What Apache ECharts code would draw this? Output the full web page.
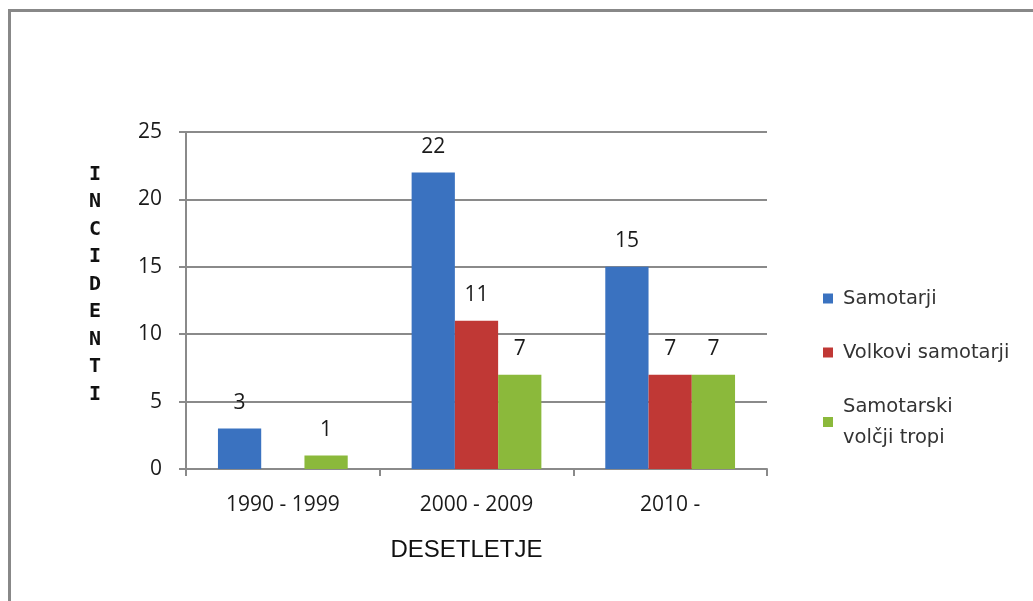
<!DOCTYPE html>
<html>
<head>
<meta charset="utf-8">
<script src="https://cdn.jsdelivr.net/npm/echarts@6/dist/echarts.min.js"></script>
<style>html,body{margin:0;padding:0;background:#fff}#c{width:1033px;height:601px}</style>
</head>
<body>
<div id="c"></div>
<script>
var categories = ['1990 - 1999', '2000 - 2009', '2010 -'];
var seriesNames = ['Samotarji', 'Volkovi samotarji', 'Samotarski\nvolčji tropi'];
var samotarji = [3, 22, 15];
var volkoviSamotarji = [null, 11, 7];
var volcjiTropi = [1, 7, 7];
var yTicks = [0, 5, 10, 15, 20, 25];

var colors = ['#3a72c0', '#c03835', '#8bb93b'];
var chart = echarts.init(document.getElementById('c'));
function mk(name, data, color) {
  return {
    name: name, type: 'bar', data: data, barGap: '0%', barCategoryGap: '33%',
    itemStyle: { color: color },
    label: { show: true, position: 'top', distance: 15, color: '#1a1a1a', fontSize: 21, fontFamily: 'Open Sans' }
  };
}
chart.setOption({
  animation: false,
  backgroundColor: '#fff',
  grid: { left: 186, right: 266, top: 132, bottom: 132 },
  legend: {
    orient: 'vertical', left: 818, top: 278, itemWidth: 10, itemHeight: 10, itemGap: 23,
    icon: 'rect',
    textStyle: { fontSize: 19.5, color: '#333', fontFamily: 'DejaVu Sans', lineHeight: 31, padding: [0, 0, 0, 5] },
    data: seriesNames
  },
  xAxis: {
    type: 'category', data: categories,
    name: 'DESETLETJE', nameLocation: 'middle', nameGap: 69,
    nameTextStyle: { fontSize: 24, color: '#111', fontFamily: 'Liberation Sans', padding: [0, 20, 0, 0] },
    axisLine: { lineStyle: { color: '#8a8a8a', width: 2 } },
    axisTick: { show: true, length: 7, lineStyle: { color: '#8a8a8a', width: 2 } },
    axisLabel: { fontSize: 21, color: '#1a1a1a', margin: 26, fontFamily: 'Open Sans' }
  },
  yAxis: {
    type: 'value', min: yTicks[0], max: yTicks[yTicks.length - 1], interval: 5,
    axisLine: { show: true, lineStyle: { color: '#8a8a8a', width: 2 } },
    axisTick: { show: true, length: 7, lineStyle: { color: '#8a8a8a', width: 2 } },
    splitLine: { lineStyle: { color: '#8a8a8a', width: 2 } },
    axisLabel: { fontSize: 21, color: '#1a1a1a', margin: 24, fontFamily: 'Open Sans' }
  },
  graphic: [
    { type: 'line', shape: { x1: 9.5, y1: 10, x2: 9.5, y2: 601 }, style: { stroke: '#888', lineWidth: 3 } },
    { type: 'line', shape: { x1: 8, y1: 10.5, x2: 1033, y2: 10.5 }, style: { stroke: '#888', lineWidth: 3 } },
    { type: 'text', left: 89, top: 161, style: { text: 'I\nN\nC\nI\nD\nE\nN\nT\nI', fontSize: 20, fontWeight: 'bold', lineHeight: 27.5, fill: '#111', fontFamily: 'DejaVu Sans Mono', align: 'center' } }
  ],
  series: [
    mk(seriesNames[0], samotarji, colors[0]),
    mk(seriesNames[1], volkoviSamotarji, colors[1]),
    mk(seriesNames[2], volcjiTropi, colors[2])
  ]
});
</script>
</body>
</html>
